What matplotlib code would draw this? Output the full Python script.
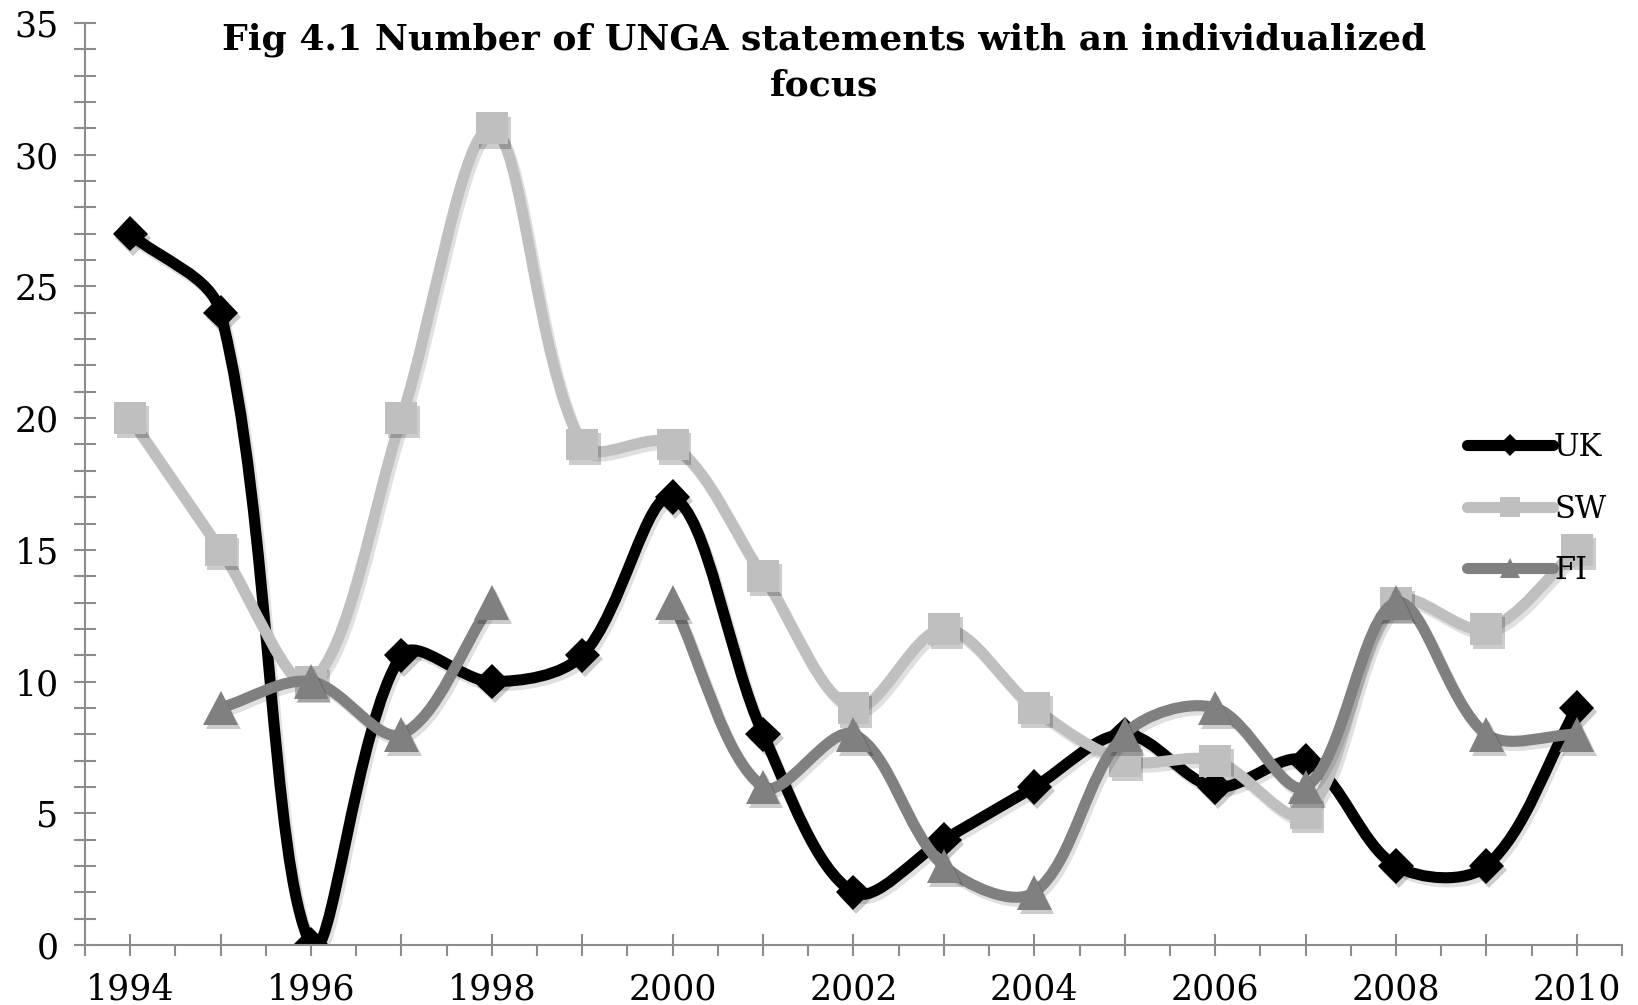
import numpy as np
import matplotlib
matplotlib.use("Agg")
import matplotlib.pyplot as plt
from matplotlib.path import Path
from matplotlib.patches import PathPatch
from matplotlib.lines import Line2D
import matplotlib.patheffects as pe

# data
years = list(range(1994, 2011))
uk = [27, 24, 0, 11, 10, 11, 17, 8, 2, 4, 6, 8, 6, 7, 3, 3, 9]
sw = [20, 15, 10, 20, 31, 19, 19, 14, 9, 12, 9, 7, 7, 5, 13, 12, 15]
fi = [None, 9, 10, 8, 13, None, 13, 6, 8, 3, 2, 8, 9, 6, 13, 8, 8]

series_names = ["UK", "SW", "FI"]
series_colors = ["#000000", "#BFBFBF", "#808080"]
series_markers = ["D", "s", "^"]
marker_sizes = [18, 23, 25]

plt.rcParams["font.family"] = ["DejaVu Serif"]


def smooth_path(ax, xs, ys):
    # Excel style smoothed line: bezier through every point, control points
    # weighted by the on-screen length of the neighbouring segments
    P = ax.transData.transform(np.column_stack([xs, ys]))
    n = len(P)
    verts = [P[0]]
    codes = [Path.MOVETO]
    for i in range(n - 1):
        p0 = P[max(i - 1, 0)]
        p1 = P[i]
        p2 = P[i + 1]
        p3 = P[min(i + 2, n - 1)]
        d01 = np.hypot(*(p1 - p0))
        d12 = np.hypot(*(p2 - p1))
        d23 = np.hypot(*(p3 - p2))
        c1 = p1 + (p2 - p0) * (d12 / (d01 + d12)) / 3
        c2 = p2 - (p3 - p1) * (d12 / (d12 + d23)) / 3
        verts += [c1, c2, p2]
        codes += [Path.CURVE4] * 3
    verts = ax.transData.inverted().transform(np.array(verts))
    return Path(verts, codes)


def runs(xs, ys):
    # split a series where values are missing
    out, cx, cy = [], [], []
    for x, y in zip(xs, ys):
        if y is None:
            if cx:
                out.append((cx, cy))
            cx, cy = [], []
        else:
            cx.append(x)
            cy.append(y)
    if cx:
        out.append((cx, cy))
    return out


fig = plt.figure(figsize=(16.38, 10.05), dpi=100)
ax = fig.add_axes([85 / 1638, 60 / 1005, (1622 - 85) / 1638, (945 - 23) / 1005])
ax.set_xlim(1993.5, 2010.5)
ax.set_ylim(0, 35)

line_shadow = [pe.SimpleLineShadow(offset=(2, -3), shadow_color="k", alpha=0.12), pe.Normal()]
mark_shadow = [pe.SimplePatchShadow(offset=(2, -3), shadow_rgbFace="k", alpha=0.2), pe.Normal()]

handles = []
for k, vals in enumerate([uk, sw, fi]):
    col = series_colors[k]
    for xs, ys in runs(years, vals):
        patch = PathPatch(smooth_path(ax, xs, ys), fill=False, edgecolor=col, lw=8,
                          capstyle="round", joinstyle="round", zorder=2 + k)
        patch.set_path_effects(line_shadow)
        ax.add_patch(patch)
        ax.plot(xs, ys, linestyle="none", marker=series_markers[k],
                markersize=marker_sizes[k], color=col, markeredgewidth=0,
                zorder=2.5 + k, path_effects=mark_shadow)
    handles.append(Line2D([], [], color=col, lw=8, solid_capstyle="round",
                          marker=series_markers[k], markersize=marker_sizes[k] * 0.6,
                          markeredgewidth=0, label=series_names[k]))

ax.set_xticks(years)
ax.set_xticklabels([str(y) if y % 2 == 0 else "" for y in years])
ax.set_xticks(np.arange(1993.5, 2011, 1), minor=True)
ax.set_yticks(range(0, 36, 5))
ax.set_yticks(range(0, 36), minor=True)

for s in ["top", "right"]:
    ax.spines[s].set_visible(False)
for s in ["left", "bottom"]:
    ax.spines[s].set_color("#8c8c8c")
    ax.spines[s].set_linewidth(1.5)

ax.tick_params(axis="x", which="major", direction="inout", length=16, width=1.5,
               color="#8c8c8c", labelsize=25, pad=12)
ax.tick_params(axis="x", which="minor", direction="out", length=8, width=1.5,
               color="#8c8c8c")
ax.tick_params(axis="y", which="both", direction="inout", length=16, width=1.5,
               color="#8c8c8c", labelsize=25, pad=11)

fig.text(0.503, 0.978, "Fig 4.1 Number of UNGA statements with an individualized\nfocus",
         ha="center", va="top", fontsize=26, fontweight="bold", linespacing=1.45)

ax.legend(handles=handles, loc="center left", bbox_to_anchor=(1467 / 1638, 1 - 509 / 1005),
          bbox_transform=fig.transFigure, frameon=False, fontsize=22,
          handlelength=2.8, handletextpad=0.05, labelspacing=1.0,
          borderpad=0, borderaxespad=0)

fig.savefig("out.png", dpi=100)
